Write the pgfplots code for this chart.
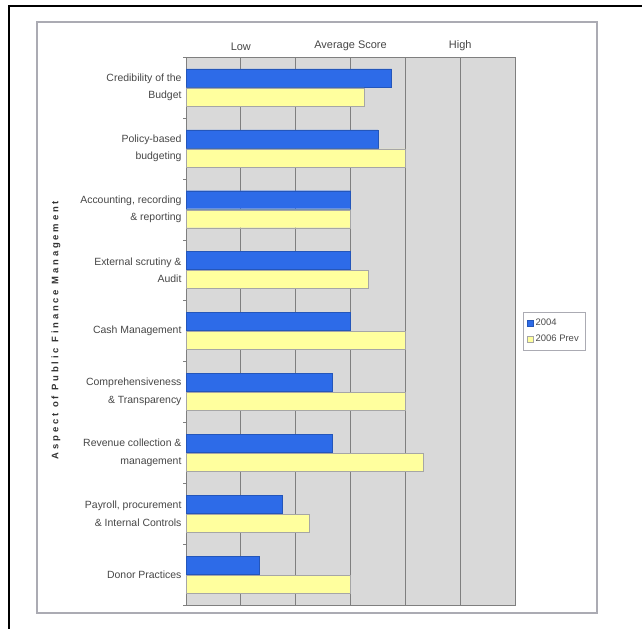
\documentclass[border=0pt]{standalone}
\usepackage{fontspec}
\setmainfont{Liberation Sans}
\usepackage{pgfplots}
\pgfplotsset{compat=1.18}

\definecolor{barblue}{HTML}{2D6BE8}
\definecolor{baryellow}{HTML}{FFFF9E}
\definecolor{plotbg}{HTML}{D9D9D9}
\definecolor{gridgray}{HTML}{7F7F7F}
\definecolor{framegray}{HTML}{ABABB3}

\begin{document}
\begin{tikzpicture}[x=1bp,y=1bp]
\useasboundingbox (0,0) rectangle (642,629);
\fill[white] (0,0) rectangle (642,629);
% outer frame
\draw[line width=2bp] (8.5,-5) -- (8.5,622.5) -- (650,622.5);
% chart frame
\draw[line width=1.6bp, framegray] (37,16) rectangle (597,607);

\begin{axis}[
    at={(186bp,24bp)}, anchor=south west,
    scale only axis,
    width=329bp, height=548bp,
    xmin=0, xmax=6,
    ymin=-0.5, ymax=8.5,
    y dir=reverse,
    axis background/.style={fill=plotbg},
    axis line style={gridgray},
    xtick={1,2,3,4,5},
    xticklabels={Low,,Average Score,,High},
    xticklabel pos=upper,
    xmajorgrids,
    major x grid style={gridgray, line width=1bp},
    major tick length=0pt,
    ytick={0,...,8},
    minor ytick={-0.5,0.5,...,8.5},
    minor tick length=3bp,
    tick align=outside,
    ytick pos=left,
    minor y tick style={gridgray},
    yticklabels={
        {Credibility of the\\Budget},
        {Policy-based\\budgeting},
        {Accounting, recording\\\& reporting},
        {External scrutiny \&\\Audit},
        {Cash Management},
        {Comprehensiveness\\\& Transparency},
        {Revenue collection \&\\management},
        {Payroll, procurement\\\& Internal Controls},
        {Donor Practices}},
    yticklabel style={align=right, font=\fontsize{10.5}{17.5}\selectfont, text=black!72, xshift=-1bp},
    xticklabel style={font=\fontsize{11}{13}\selectfont, text=black!72, yshift=3bp},
    xbar,
    bar width=18bp,
    legend cell align=left,
    legend style={at={(1,0.5)}, anchor=west, xshift=8bp,
        font=\fontsize{9.5}{11}\selectfont, text=black!70,
        draw=framegray, fill=white, row sep=4bp,
        inner xsep=4bp, inner ysep=5bp},
    legend image code/.code={\fill[#1] (0bp,-3bp) rectangle (6bp,3bp);},
]
\addplot[fill=barblue, draw=barblue!80!black, line width=0.3bp, bar shift=9.5bp]
  coordinates {(3.75,0) (3.5,1) (3.0,2) (3.0,3) (3.0,4) (2.67,5) (2.67,6) (1.75,7) (1.33,8)};
\addplot[fill=baryellow, draw=black!35, line width=0.4bp, bar shift=-9.5bp]
  coordinates {(3.25,0) (4.0,1) (3.0,2) (3.33,3) (4.0,4) (4.0,5) (4.33,6) (2.25,7) (3.0,8)};
\legend{2004, 2006 Prev}
\end{axis}

\node[rotate=90, font=\bfseries\fontsize{9.5}{11}\selectfont\addfontfeature{LetterSpace=30}, text=black!80]
  at (56,299) {Aspect of Public Finance Management};
\end{tikzpicture}
\end{document}
